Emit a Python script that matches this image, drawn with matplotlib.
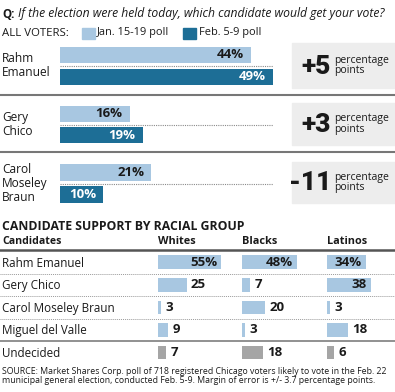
import matplotlib
matplotlib.use('Agg')
import matplotlib.pyplot as plt
from matplotlib.patches import Rectangle
from matplotlib.lines import Line2D

plt.rcParams['font.family'] = ['Open Sans', 'DejaVu Sans']

# poll of all voters
names = ['Rahm\nEmanuel', 'Gery\nChico', 'Carol\nMoseley\nBraun']
jan = [44, 16, 21]
feb = [49, 19, 10]

# support by racial group
groups = ['Whites', 'Blacks', 'Latinos']
candidates = ['Rahm Emanuel', 'Gery Chico', 'Carol Moseley Braun',
              'Miguel del Valle', 'Undecided']
whites = [55, 25, 3, 9, 7]
blacks = [48, 7, 20, 3, 18]
latinos = [34, 38, 3, 18, 6]

LIGHT = '#a8c7e1'
DARK = '#1d6e96'
GREY = '#a5a5a5'
BOX = '#ededed'
INK = '#1a1a1a'

W, H = 395, 392
fig = plt.figure(figsize=(W / 100, H / 100), dpi=100)


def rect(x, y, w, h):
    # pixel box, origin top left -> figure fraction
    return [x / W, 1 - (y + h) / H, w / W, h / H]


def ftext(x, y, s, **kw):
    kw.setdefault('color', INK)
    return fig.text(x / W, 1 - y / H, s, **kw)


def hline(y, color='#777777', lw=1.5, ls='-'):
    fig.add_artist(Line2D([0, 1], [1 - y / H, 1 - y / H], color=color,
                          lw=lw, ls=ls, transform=fig.transFigure))


# question and legend
ftext(2, 14, 'Q:', fontsize=8.4, fontweight='bold', va='center')
ftext(18, 14, 'If the election were held today, which candidate would get your vote?',
      fontsize=8.7, style='italic', va='center')
ftext(2, 33, 'ALL VOTERS:', fontsize=8.2, va='center')
fig.add_artist(Rectangle((82 / W, 1 - 39 / H), 13 / W, 11 / H, color=LIGHT,
                         transform=fig.transFigure))
ftext(97, 33, 'Jan. 15-19 poll', fontsize=7.9, va='center')
fig.add_artist(Rectangle((183 / W, 1 - 39 / H), 13 / W, 11 / H, color=DARK,
                         transform=fig.transFigure))
ftext(199, 33, 'Feb. 5-9 poll', fontsize=7.9, va='center')

# one block per candidate
tops = [44, 103, 161]
heights = [44, 43, 45]
boxes = [(43, 45), (103, 42), (162, 41)]
xmax = max(jan + feb)
for i in range(len(names)):
    ax = fig.add_axes(rect(60, tops[i], 213, heights[i]))
    ax.barh([0, 1], [jan[i], feb[i]], height=0.74, color=[LIGHT, DARK])
    ax.set_xlim(0, xmax)
    ax.set_ylim(1.5, -0.5)
    ax.axhline(0.5, color='#8a8a8a', lw=0.8, ls=(0, (1, 1)))
    ax.axis('off')
    ax.annotate(f'{jan[i]}%', (jan[i], 0), xytext=(-5, 0), textcoords='offset points',
                ha='right', va='center', fontsize=9.5, fontweight='bold', color=INK)
    ax.annotate(f'{feb[i]}%', (feb[i], 1), xytext=(-5, 0), textcoords='offset points',
                ha='right', va='center', fontsize=9.5, fontweight='bold', color='white')
    mid = tops[i] + heights[i] / 2
    ftext(2, mid, names[i], fontsize=8.6, va='center', linespacing=1.1)

    by, bh = boxes[i]
    fig.add_artist(Rectangle((292 / W, 1 - (by + bh) / H), 103 / W, bh / H,
                             color=BOX, transform=fig.transFigure))
    d = feb[i] - jan[i]
    ftext(331, by + bh / 2 + 1, f'{d:+d}', fontsize=19, fontweight='black',
          family='Roboto', ha='right', va='center')
    ftext(334, by + bh / 2, 'percentage\npoints', fontsize=7.5, va='center',
          linespacing=0.95)

hline(94.5)
hline(152)

# table
ftext(2, 226, 'CANDIDATE SUPPORT BY RACIAL GROUP', fontsize=8.8, fontweight='bold',
      va='center')
ftext(2, 242, 'Candidates', fontsize=7.6, fontweight='bold', va='center')
hline(250, color='#555555', lw=1.8)
for y in [273.5, 296, 318.5]:
    hline(y, color='#9a9a9a', lw=0.7, ls=(0, (1, 1)))
hline(341, color='#888888', lw=1.3)

row_top = 251
row_h = 22.5
for k, name in enumerate(candidates):
    ftext(2, row_top + row_h * (k + 0.5) + 1, name, fontsize=8.4, va='center')

cols = [whites, blacks, latinos]
col_x = [158, 242, 327]
colors = [LIGHT] * 4 + [GREY]
for c in range(len(groups)):
    ftext(col_x[c], 242, groups[c], fontsize=7.8, fontweight='bold', va='center')
    ax = fig.add_axes(rect(col_x[c], row_top, 69, row_h * len(candidates)))
    vals = cols[c]
    ax.barh(range(len(vals)), vals, height=0.6, color=colors)
    ax.set_xlim(0, 60)
    ax.set_ylim(len(vals) - 0.5, -0.5)
    ax.axis('off')
    for k, v in enumerate(vals):
        lab = f'{v}%' if k == 0 else f'{v}'
        if v >= 30:
            ax.annotate(lab, (v, k), xytext=(-3, 0), textcoords='offset points',
                        ha='right', va='center', fontsize=9.5, fontweight='bold',
                        color=INK, annotation_clip=False)
        else:
            ax.annotate(lab, (v, k), xytext=(3, 0), textcoords='offset points',
                        ha='left', va='center', fontsize=9.5, fontweight='bold',
                        color=INK, annotation_clip=False)

ftext(2, 371, 'SOURCE: Market Shares Corp. poll of 718 registered Chicago voters likely to vote in the Feb. 22',
      fontsize=6.3, va='center')
ftext(2, 380.5, 'municipal general election, conducted Feb. 5-9. Margin of error is +/- 3.7 percentage points.',
      fontsize=6.3, va='center')

fig.savefig('out.png', dpi=100)
